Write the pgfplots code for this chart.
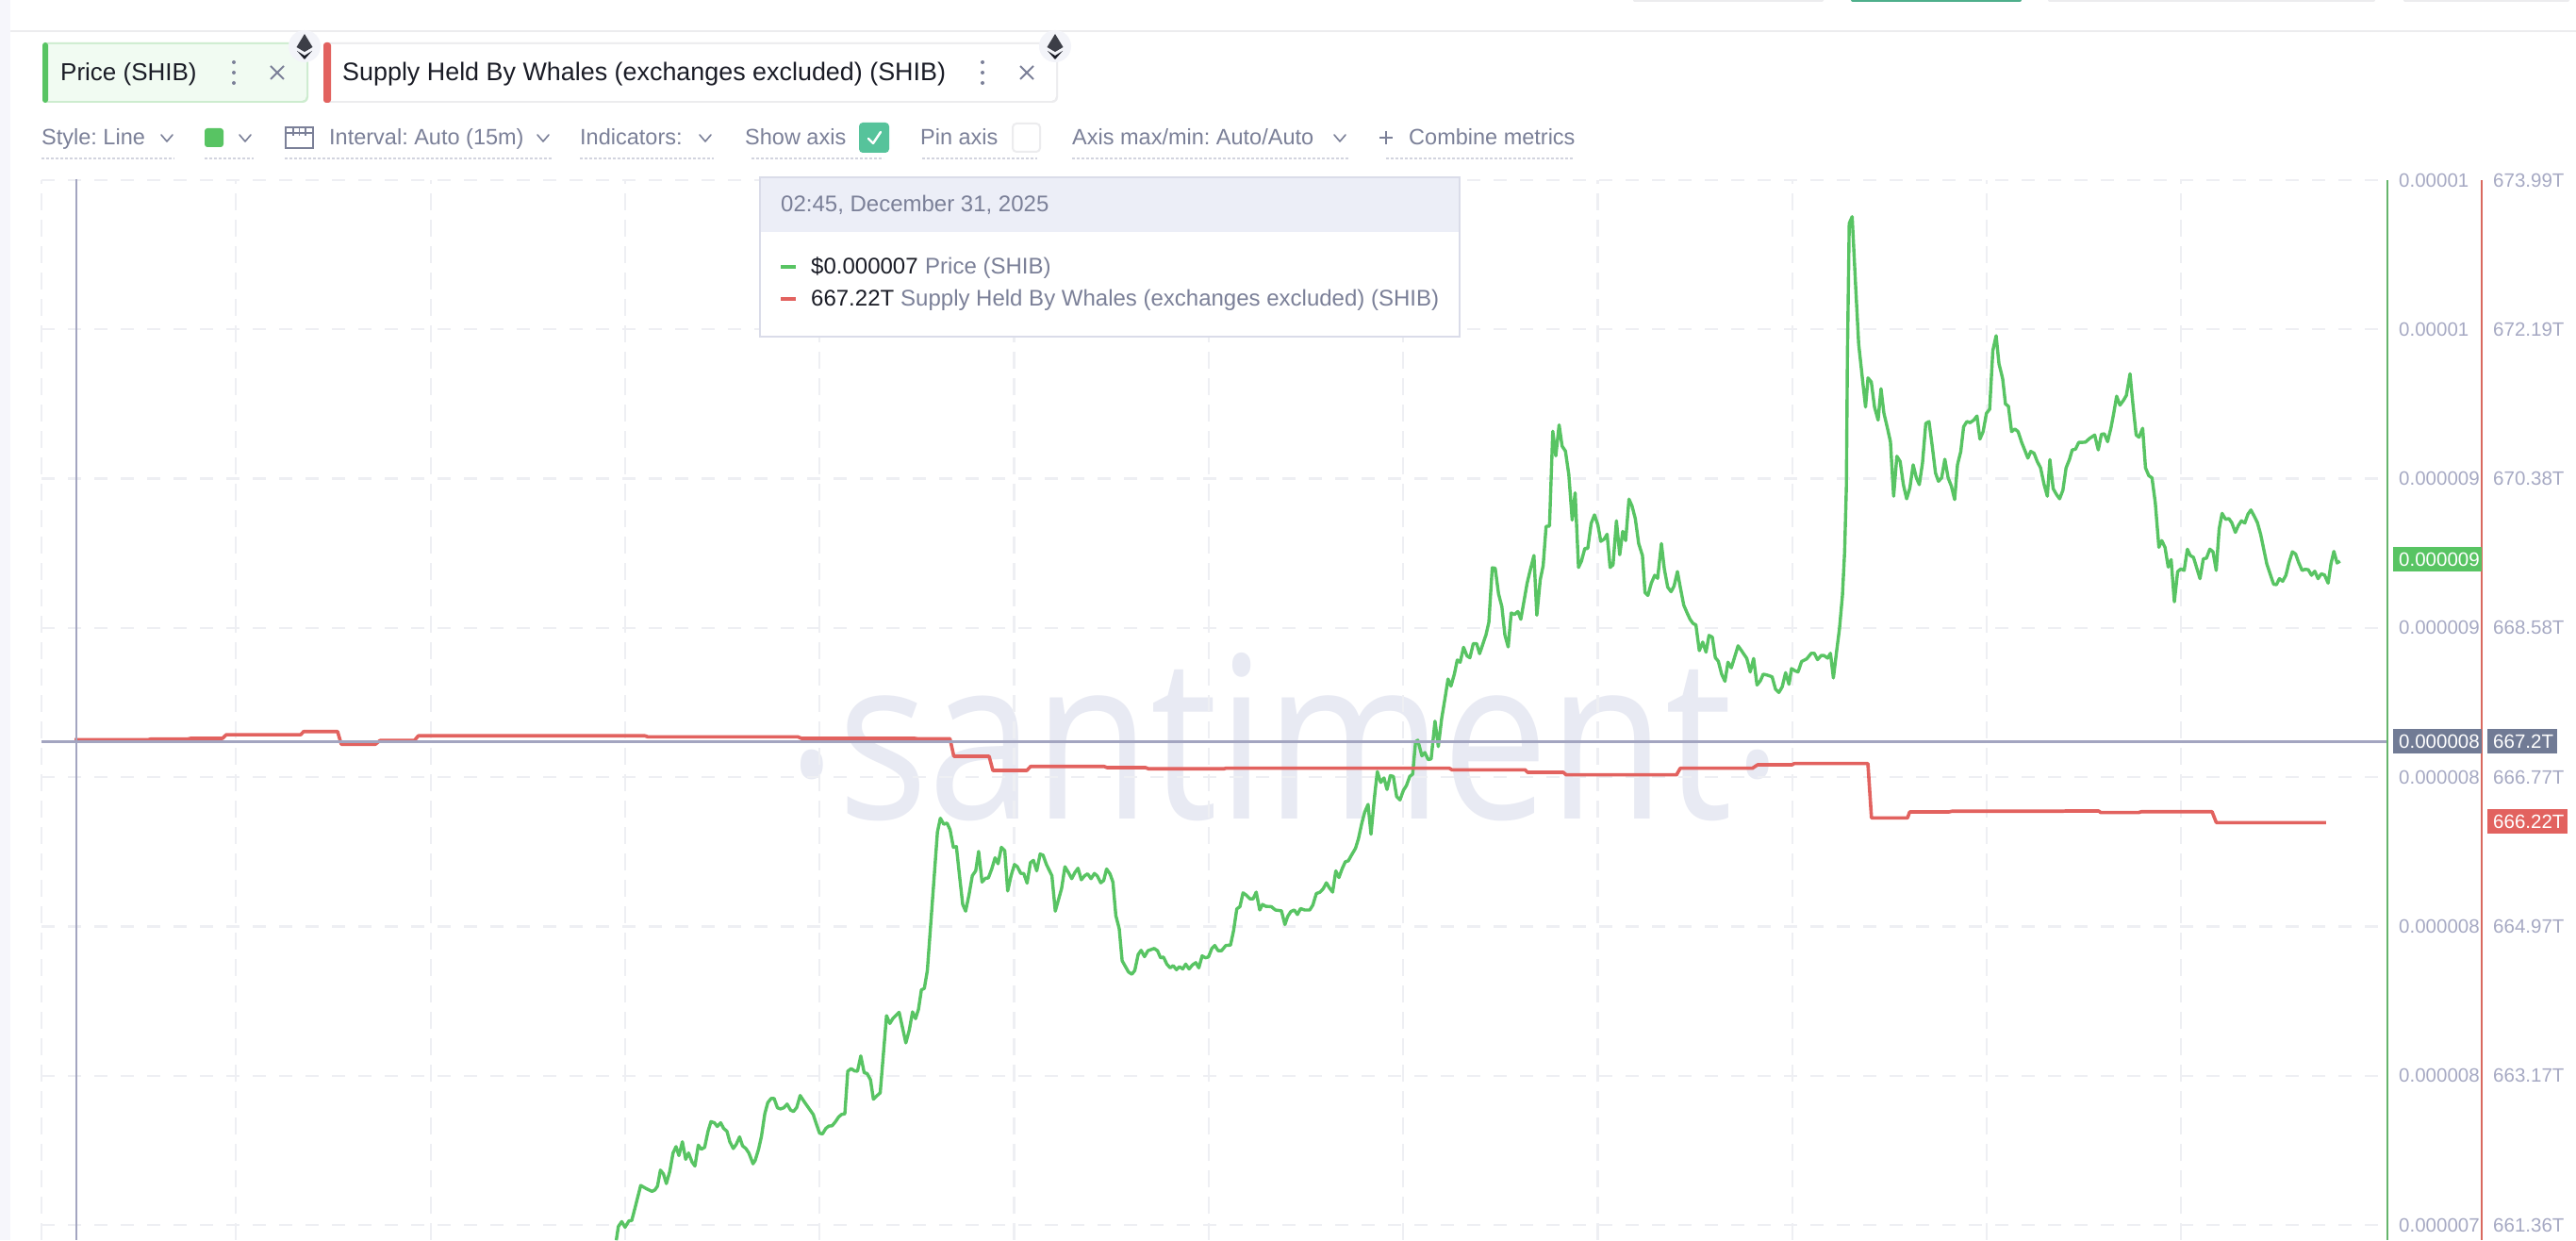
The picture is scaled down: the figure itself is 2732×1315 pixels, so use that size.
\documentclass[border=0pt]{standalone}
\usepackage{pgfplots}
\pgfplotsset{compat=1.18}
\usepackage{pgfplotstable}
\usepackage{fontspec}
\setmainfont{Liberation Sans}
\newfontfamily\wmfont{Open Sans}
\definecolor{priceline}{HTML}{58C463}
\definecolor{supplyline}{HTML}{E2625F}
\definecolor{priceaxis}{HTML}{66B56C}
\definecolor{supplyaxis}{HTML}{D9695F}
\definecolor{gridc}{HTML}{EEEFF3}
\definecolor{ticktxt}{HTML}{A6A9C3}
\definecolor{slate}{HTML}{7B8098}
\definecolor{hair}{HTML}{A3A5C0}
\definecolor{dotu}{HTML}{D2D4DF}
\definecolor{wm}{HTML}{E8EAF3}
\definecolor{strip}{HTML}{F6F6FB}
\definecolor{crossbg}{HTML}{717B95}
\definecolor{tiphead}{HTML}{ECEEF7}
\definecolor{tipbord}{HTML}{DADCE9}
\definecolor{checkc}{HTML}{56C39B}
\definecolor{tag}{HTML}{F1FBF2}
\definecolor{tagb}{HTML}{CDECCF}
\definecolor{lineg}{HTML}{ECECEE}
\definecolor{inkc}{HTML}{1A1C26}

% Price (SHIB), in millionths of a dollar; x is the position along the time axis
\pgfplotstableread{
x y
653.6 7.159
655.8 7.196
659.4 7.209
662.9 7.194
667 7.211
670 7.212
673.7 7.248
679.5 7.306
685.7 7.297
691.5 7.290
694.6 7.294
697.3 7.304
700.4 7.347
703.6 7.337
706.7 7.311
710.3 7.343
713.8 7.393
717 7.410
720 7.386
723.7 7.423
727.2 7.376
730.3 7.393
733.9 7.369
737 7.358
740.6 7.414
743.7 7.403
747.3 7.408
750.9 7.451
754 7.477
757.6 7.474
760.7 7.464
764.3 7.474
767.4 7.459
771 7.451
774 7.423
777.7 7.405
780.8 7.416
784.4 7.436
787.5 7.412
791 7.405
794.2 7.393
798.6 7.364
800.9 7.373
804.5 7.403
807.6 7.438
811.1 7.498
814.3 7.528
817.8 7.539
821 7.539
824.5 7.514
827.7 7.511
831.2 7.514
834.8 7.524
838.4 7.508
841.5 7.504
845 7.515
848.6 7.547
852.2 7.533
855.8 7.520
862.5 7.496
865.6 7.472
869.2 7.446
872.3 7.444
875.9 7.459
879 7.465
882.6 7.466
886.1 7.477
889.3 7.489
892.4 7.496
896 7.498
899.1 7.612
902.7 7.619
906.2 7.613
909.4 7.612
912.9 7.653
916.5 7.608
919.6 7.606
923.2 7.589
926.3 7.537
929.9 7.546
933.5 7.554
940.2 7.761
943.7 7.740
946.9 7.753
953.6 7.770
960.7 7.688
964.3 7.722
967.8 7.771
971 7.753
974.1 7.778
977.2 7.830
980.3 7.834
983.5 7.882
994.2 8.253
997.3 8.290
1000.9 8.274
1004.4 8.277
1007.6 8.259
1011.1 8.212
1014.3 8.214
1017.4 8.141
1021 8.059
1024.1 8.041
1027.7 8.085
1031.2 8.136
1034.8 8.149
1037.9 8.201
1041.5 8.119
1045 8.129
1048.2 8.130
1051.8 8.154
1055.3 8.184
1058.5 8.168
1062 8.212
1065.6 8.203
1068.7 8.095
1072.3 8.136
1075.9 8.166
1079 8.160
1082.6 8.142
1085.7 8.142
1089.3 8.116
1092.8 8.171
1096 8.177
1099.5 8.149
1103.1 8.194
1106.2 8.191
1109.8 8.166
1115.6 8.136
1119.2 8.041
1125.9 8.102
1129.4 8.160
1133 8.145
1136.6 8.128
1140.1 8.145
1143.3 8.156
1146.8 8.125
1150.4 8.136
1153.5 8.141
1157.1 8.128
1160.7 8.142
1163.8 8.135
1167.4 8.117
1170.5 8.123
1173.6 8.154
1177.2 8.141
1180.3 8.119
1183.4 8.029
1187 7.994
1190.1 7.908
1196.8 7.878
1200.4 7.872
1203.5 7.882
1207.1 7.925
1210.2 7.936
1213.8 7.919
1217.4 7.935
1224.1 7.941
1227.6 7.935
1230.8 7.916
1233.9 7.918
1237.5 7.899
1241 7.889
1244.2 7.895
1247.7 7.884
1250.8 7.892
1254.4 7.886
1257.5 7.899
1261.1 7.886
1264.7 7.897
1268.2 7.903
1271.4 7.889
1274.9 7.921
1278.5 7.916
1281.6 7.918
1285.2 7.941
1288.3 7.949
1291.9 7.935
1295.5 7.935
1300 7.949
1305 7.950
1308.3 7.989
1311.7 8.047
1315 8.053
1318.3 8.090
1321.7 8.084
1325.7 8.074
1329 8.074
1332.3 8.092
1336 8.044
1339 8.059
1342.3 8.054
1348.3 8.053
1352.7 8.044
1359 8.042
1362.7 8.005
1365.7 8.027
1369 8.040
1372.7 8.044
1376 8.032
1379.3 8.048
1383.7 8.044
1389 8.044
1392.3 8.057
1396 8.088
1400 8.092
1403.3 8.101
1406.7 8.117
1410 8.103
1413.3 8.092
1416.7 8.149
1420 8.131
1423.3 8.154
1426.7 8.173
1430 8.176
1433.3 8.191
1437.5 8.209
1440.6 8.234
1444.2 8.276
1447.3 8.306
1450.9 8.327
1454 8.247
1457.6 8.344
1460.7 8.415
1464.3 8.386
1467.8 8.398
1471 8.367
1474.5 8.404
1477.7 8.402
1481.2 8.348
1484.8 8.339
1488.4 8.365
1491.5 8.377
1495.1 8.402
1498.2 8.408
1501.3 8.495
1503.6 8.499
1508 8.457
1511.1 8.466
1514.7 8.447
1517.8 8.449
1521.9 8.550
1525.4 8.482
1529 8.558
1532.6 8.613
1535.7 8.663
1538.8 8.644
1542.4 8.676
1545.5 8.714
1548.6 8.708
1552.2 8.748
1555.8 8.725
1558.9 8.720
1562.5 8.758
1566 8.758
1569.2 8.731
1575.9 8.781
1579 8.815
1582.6 8.961
1585.7 8.960
1589.3 8.891
1592.8 8.857
1596 8.781
1599.5 8.749
1602.7 8.840
1606.2 8.836
1609.8 8.844
1612.9 8.823
1619.6 8.920
1623.2 8.958
1626.8 8.994
1629.9 8.834
1633.5 8.929
1636.6 8.967
1639.7 9.072
1643.3 9.073
1646.8 9.327
1650 9.261
1653.5 9.344
1656.7 9.287
1660.2 9.274
1663.8 9.211
1667.4 9.089
1670.5 9.162
1674.1 8.962
1677.2 8.979
1680.8 9.013
1683.9 9.013
1687.5 9.080
1691 9.103
1694.6 9.076
1697.7 9.032
1701.3 9.038
1704.4 9.051
1707.6 8.962
1710.7 8.969
1714.3 9.087
1717.8 8.996
1721 9.059
1724.1 9.034
1727.6 9.145
1730.8 9.127
1734.3 9.093
1737.9 9.026
1741.9 8.994
1744.6 8.895
1747.7 8.887
1751.3 8.920
1754.9 8.941
1758 8.933
1762 9.026
1765.1 8.958
1768.7 8.909
1772.3 8.897
1775.4 8.912
1779 8.951
1782.1 8.908
1785.7 8.861
1789.3 8.840
1792.4 8.823
1795.5 8.812
1798.6 8.808
1802.2 8.739
1805.8 8.762
1809.3 8.735
1812.5 8.780
1816 8.775
1819.2 8.720
1822.3 8.711
1825.9 8.676
1829.4 8.657
1832.6 8.708
1836.1 8.693
1839.2 8.718
1843.3 8.752
1846.4 8.741
1852.6 8.718
1856.2 8.682
1859.8 8.718
1863.4 8.647
1866.9 8.658
1870 8.676
1873.6 8.674
1879.4 8.669
1883 8.636
1886.6 8.627
1890.1 8.642
1893.7 8.680
1897.3 8.649
1900 8.691
1903.8 8.685
1906.9 8.682
1910.7 8.710
1916.1 8.717
1921 8.732
1924.1 8.732
1927.6 8.715
1931.4 8.726
1934.4 8.726
1938.3 8.719
1941.3 8.732
1944.4 8.666
1947.8 8.737
1950.9 8.799
1954 8.887
1956.3 9.003
1958.2 9.180
1959.3 9.534
1961.2 9.884
1964.3 9.902
1968.1 9.711
1971.2 9.561
1975.4 9.463
1978.5 9.392
1981.1 9.470
1984.6 9.459
1988 9.392
1991.8 9.357
1994.9 9.441
1998 9.375
2001.4 9.339
2004.9 9.299
2008.3 9.153
2011.7 9.260
2015.2 9.246
2018.6 9.184
2022.1 9.146
2025.5 9.175
2029 9.237
2032.4 9.202
2035.5 9.184
2038.9 9.242
2042.4 9.348
2045.8 9.353
2049.3 9.286
2052.7 9.215
2055.8 9.193
2059.2 9.202
2062.6 9.252
2066.1 9.202
2069.5 9.180
2073 9.144
2076 9.237
2079.5 9.273
2082.5 9.339
2086 9.353
2089.4 9.350
2093.3 9.357
2096.7 9.368
2099.8 9.306
2103.2 9.326
2106.7 9.375
2110.1 9.386
2113.5 9.543
2117 9.583
2120 9.508
2123.9 9.468
2126.9 9.400
2130 9.394
2133.4 9.326
2136.9 9.333
2140.3 9.326
2143.8 9.299
2150.7 9.255
2153.7 9.273
2157.2 9.268
2160.6 9.246
2164.1 9.229
2167.9 9.184
2171.3 9.153
2174 9.251
2177.5 9.173
2180.9 9.158
2184.3 9.146
2187.8 9.169
2191.2 9.229
2194.7 9.251
2197.7 9.277
2201.2 9.279
2204.6 9.297
2208.1 9.297
2211.9 9.298
2215.7 9.307
2221.5 9.317
2225.3 9.277
2228.7 9.319
2231.8 9.320
2235.2 9.299
2238.7 9.335
2241.7 9.375
2244.8 9.421
2248.3 9.397
2252.1 9.410
2255.1 9.423
2259 9.481
2262 9.401
2265.5 9.317
2268.5 9.311
2272.4 9.335
2275.4 9.229
2278.9 9.208
2282.3 9.202
2285.8 9.135
2289.6 9.016
2292.6 9.034
2296.1 9.016
2299.5 8.963
2302.6 8.983
2306 8.870
2309.5 8.951
2312.9 8.958
2316.4 8.954
2319.8 9.011
2322.9 8.994
2326.3 8.989
2333.2 8.932
2336.7 8.985
2340.1 8.987
2343.6 9.011
2347 9.004
2350.4 8.954
2353.5 9.065
2356.6 9.107
2360.4 9.091
2363.8 9.093
2366.9 9.082
2370.7 9.056
2373.8 9.074
2377.2 9.087
2380.7 9.081
2384.1 9.105
2387.2 9.116
2390.6 9.100
2394.1 9.082
2397.5 9.051
2404 8.972
2407.5 8.945
2411.3 8.917
2414.3 8.916
2417.4 8.932
2420.9 8.925
2424.3 8.941
2427.7 8.976
2431.2 9.004
2434.6 8.998
2437.7 8.976
2441.5 8.954
2444.6 8.957
2448 8.956
2451.5 8.941
2454.9 8.952
2458.4 8.932
2461.8 8.945
2465.2 8.942
2469.1 8.920
2472.1 8.972
2475.2 9.005
2478.6 8.974
2481.7 8.979
}\pricetable

% Supply held by whales, in trillions
\pgfplotstableread{
x y
79 667.227
157.5 667.227
160 667.234
199 667.234
202 667.242
236 667.242
240 667.287
319 667.287
322 667.325
358 667.325
362 667.170
398 667.170
403 667.216
439.5 667.216
443.6 667.273
684 667.273
687 667.261
846 667.261
850 667.242
970 667.242
973 667.238
1007.5 667.238
1011.6 667.025
1049 667.025
1053 666.854
1089 666.854
1093 666.903
1171 666.903
1174 666.889
1215 666.889
1218 666.874
1298 666.874
1300 666.881
1537 666.881
1540 666.862
1617.5 666.862
1620 666.832
1658 666.832
1661 666.801
1778 666.801
1782 666.881
1858.5 666.881
1864 666.923
1900.6 666.923
1903 666.938
1981 666.938
1984.8 666.281
2023 666.281
2025.3 666.353
2067 666.353
2070 666.361
2187.5 666.361
2190 666.364
2225.8 666.364
2228 666.345
2268 666.345
2271 666.356
2346 666.356
2350.5 666.224
2466.8 666.224
}\supplytable

\frenchspacing
\newcommand{\fs}[1]{\fontsize{#1}{#1}\selectfont}
% text at px (x,y), colour, size
\newcommand{\tx}[5]{\node[anchor=mid west,inner sep=0pt,text=#3,yshift=-0.22*#4 pt] at (#1,#2) {\fs{#4}#5};}
\newcommand{\chev}[2]{\draw[slate,line width=1.6pt,line cap=round,line join=round] (#1-6,#2-3)--(#1,#2+4)--(#1+6,#2-3);}
\newcommand{\dotu}[3]{\draw[dotu,line width=2pt,dash pattern=on 3pt off 2pt] (#1,#3)--(#2,#3);}
\newcommand{\eth}[2]{%
  \fill[F0F2F8hal] (#1,#2) circle (17);
  \fill[inkc!85] (#1,#2-13)--(#1-8.5,#2+1)--(#1,#2+6)--(#1+8.5,#2+1)--cycle;
  \fill[inkc] (#1-8,#2+5)--(#1,#2+14)--(#1+8,#2+5)--(#1,#2+10)--cycle;
}
\definecolor{F0F2F8hal}{HTML}{F3F4F9}

\begin{document}
\begin{tikzpicture}[x=1pt,y=1pt]
\path[use as bounding box,fill=white] (0,0) rectangle (2732,1315);

% watermark
\node[anchor=base,inner sep=0pt,text=wm,xscale=0.84,transform shape] at (1363,446) {\wmfont\fs{240}\raisebox{45pt}{.}santiment\raisebox{45pt}{.}};

% ---- price axis with grid
\begin{axis}[
  at={(44pt,0pt)},anchor=south west,scale only axis,
  width=2487.6pt,height=1124pt,
  xmin=44,xmax=2531.6,ymin=7.1596,ymax=10,
  axis y line=right,axis x line=bottom,
  x axis line style={draw=none,-},
  y axis line style={-,draw=priceaxis,line width=2pt},
  xtick={44,250.3,456.6,662.9,869.2,1075.5,1281.8,1488.1,1694.4,1900.7,2107,2313.3},
  xticklabels={},
  ytick={7.2,7.6,8.0,8.4,8.8,9.2,9.6,10.0},
  yticklabels={0.000007,0.000008,0.000008,0.000008,0.000009,0.000009,0.00001,0.00001},
  yticklabel style={anchor=west,inner sep=0pt,xshift=12.4pt,text=ticktxt,font=\fs{20.5}},
  tick style={draw=none},major tick length=0pt,
  xmajorgrids,ymajorgrids,
  x grid style={gridc,line width=2.2pt,dash pattern=on 18pt off 10pt},
  y grid style={gridc,line width=2.2pt,dash pattern=on 14pt off 14pt},
]
\addplot[priceline,line width=3.4pt,line join=round,no markers] table[x=x,y=y] {\pricetable};
\end{axis}

% ---- supply axis
\begin{axis}[
  at={(44pt,0pt)},anchor=south west,scale only axis,
  width=2588pt,height=1124pt,
  xmin=44,xmax=2632,ymin=661.178,ymax=673.99,
  axis y line=right,axis x line=bottom,
  x axis line style={draw=none,-},
  y axis line style={-,draw=supplyaxis,line width=2pt},
  xtick=\empty,
  ytick={661.36,663.164,664.969,666.773,668.577,670.381,672.186,673.99},
  yticklabels={661.36T,663.17T,664.97T,666.77T,668.58T,670.38T,672.19T,673.99T},
  yticklabel style={anchor=west,inner sep=0pt,xshift=12pt,text=ticktxt,font=\fs{20.5}},
  tick style={draw=none},major tick length=0pt,
]
\addplot[supplyline,line width=3.6pt,line join=round,no markers] table[x=x,y=y] {\supplytable};
\end{axis}

% ---- overlays in image pixels (y down)
\begin{scope}[yshift=1315pt,y=-1pt]
  % page chrome
  \fill[strip] (0,0) rectangle (11,1315);
  \fill[lineg] (11,32) rectangle (2732,34.5);
  \fill[lineg,rounded corners=2pt] (1732,-4) rectangle (1934,2);
  \fill[checkc!90!black,rounded corners=2pt] (1963,-4) rectangle (2144,2);
  \fill[lineg,rounded corners=2pt] (2172,-4) rectangle (2519,2);
  \fill[lineg,rounded corners=2pt] (2549,-4) rectangle (2725,2);

  % crosshair
  \draw[hair,line width=1.6pt] (81,190)--(81,1315);
  \draw[hair,line width=2.4pt] (44,786.4)--(2531,786.4);

  % axis value labels
  \fill[priceline] (2538,580.5) rectangle (2632,606.5);
  \tx{2544}{593}{white}{20.5}{0.000009}
  \fill[crossbg] (2538,773) rectangle (2632,798.6);
  \tx{2544}{786}{white}{20.5}{0.000008}
  \fill[crossbg] (2638,773) rectangle (2712,798.6);
  \tx{2644}{786}{white}{20.5}{667.2T}
  \fill[supplyline] (2638,858) rectangle (2723,884);
  \tx{2644}{871}{white}{20.5}{666.22T}

  % tooltip
  \fill[white] (806,188) rectangle (1548,357);
  \fill[tiphead] (806,188) rectangle (1548,246);
  \draw[tipbord,line width=2.5pt] (806,188) rectangle (1548,357);
  \tx{828}{217}{slate}{24}{02:45, December 31, 2025}
  \fill[priceline] (828,281.5) rectangle (844,285);
  \tx{860}{283}{inkc}{24}{\$0.000007}
  \tx{981}{283}{slate}{24}{Price (SHIB)}
  \fill[supplyline] (828,315.5) rectangle (844,319);
  \tx{860}{317}{inkc}{24}{667.22T}
  \tx{955}{317}{slate}{24}{Supply Held By Whales (exchanges excluded) (SHIB)}

  % metric tags
  \fill[tagb,rounded corners=6pt] (45,45) rectangle (327,109);
  \fill[tag,rounded corners=5pt] (47,47) rectangle (325,107);
  \fill[priceline,rounded corners=3pt] (45,45) rectangle (51,109);
  \tx{64}{77}{inkc}{26}{Price (SHIB)}
  \fill[slate] (248,66) circle (2) (248,77) circle (2) (248,88) circle (2);
  \draw[slate,line width=2pt] (287,70)--(301,84) (301,70)--(287,84);
  \eth{323}{49}

  \fill[lineg,rounded corners=6pt] (343,45) rectangle (1122,109);
  \fill[white,rounded corners=5pt] (345,47) rectangle (1120,107);
  \fill[supplyline,rounded corners=3pt] (343,45) rectangle (351,109);
  \tx{363}{77}{inkc}{26.9}{Supply Held By Whales (exchanges excluded) (SHIB)}
  \fill[slate] (1042,66) circle (2) (1042,77) circle (2) (1042,88) circle (2);
  \draw[slate,line width=2pt] (1082,70)--(1096,84) (1096,70)--(1082,84);
  \eth{1119}{49}

  % toolbar
  \tx{44}{146}{slate}{23.5}{Style: Line}
  \chev{177}{146}
  \dotu{44}{185}{168}
  \fill[priceline,rounded corners=3pt] (217,136) rectangle (237,156);
  \chev{260}{146}
  \dotu{217}{269}{168}
  \draw[slate,line width=1.8pt] (303,135) rectangle (332,157);
  \draw[slate,line width=1.8pt] (303,141)--(332,141) (311,135)--(311,144) (317.5,135)--(317.5,144) (324,135)--(324,144);
  \tx{349}{146}{slate}{23.5}{Interval: Auto (15m)}
  \chev{576}{146}
  \dotu{302}{585}{168}
  \tx{615}{146}{slate}{23.5}{Indicators:}
  \chev{748}{146}
  \dotu{615}{757}{168}
  \tx{790}{146}{slate}{23.5}{Show axis}
  \fill[checkc,rounded corners=4pt] (911,130) rectangle (943,162);
  \draw[white,line width=2.4pt,line cap=round,line join=round] (921,147)--(926,152)--(934,140);
  \dotu{797}{937}{168}
  \tx{976}{146}{slate}{23.5}{Pin axis}
  \draw[lineg,line width=2pt,rounded corners=4pt] (1074,131) rectangle (1103,161);
  \dotu{978}{1100}{168}
  \tx{1137}{146}{slate}{23.5}{Axis max/min: Auto/Auto}
  \chev{1421}{146}
  \dotu{1137}{1430}{168}
  \draw[slate,line width=1.6pt] (1463,146)--(1477,146) (1470,139)--(1470,153);
  \tx{1494}{146}{slate}{23.5}{Combine metrics}
  \dotu{1470}{1668}{168}
\end{scope}
\end{tikzpicture}
\end{document}
